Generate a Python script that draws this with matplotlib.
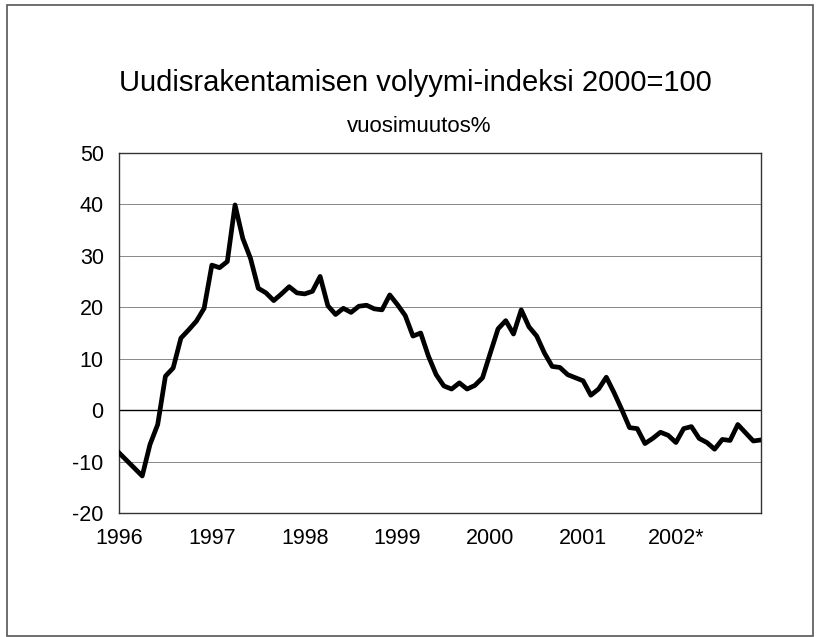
import matplotlib
matplotlib.use('Agg')
import matplotlib.pyplot as plt
from matplotlib.patches import Rectangle

# monthly year-on-year change, Jan 1996 - Dec 2002
values = [-8.3, -9.8, -11.3, -12.8, -6.7, -2.8, 6.6, 8.2, 14.0, 15.6, 17.3, 19.8,
          28.2, 27.7, 28.9, 39.9, 33.4, 29.5, 23.7, 22.8, 21.3, 22.6, 24.0, 22.8,
          22.6, 23.1, 26.0, 20.3, 18.6, 19.8, 19.0, 20.2, 20.4, 19.7, 19.5, 22.4,
          20.5, 18.4, 14.4, 15.0, 10.5, 6.9, 4.7, 4.1, 5.3, 4.1, 4.8, 6.3,
          11.1, 15.8, 17.4, 14.8, 19.5, 16.2, 14.4, 11.1, 8.5, 8.3, 6.9, 6.3,
          5.7, 2.9, 4.1, 6.4, 3.4, 0.1, -3.4, -3.6, -6.5, -5.5, -4.3, -4.9,
          -6.3, -3.6, -3.2, -5.5, -6.3, -7.6, -5.7, -5.9, -2.8, -4.4, -6.0, -5.8]
year_labels = ['1996', '1997', '1998', '1999', '2000', '2001', '2002*']
title = 'Uudisrakentamisen volyymi-indeksi 2000=100'
subtitle = 'vuosimuutos%'

plt.rcParams['font.family'] = ['Liberation Sans', 'DejaVu Sans']
plt.rcParams['axes.unicode_minus'] = False

fig = plt.figure(figsize=(8.22, 6.37), dpi=100)
fig.patches.append(Rectangle((7/822, 1/637), 806/822, 631/637, transform=fig.transFigure,
                             fill=False, edgecolor='#555555', linewidth=1.2))

ax = fig.add_axes([0.1448, 0.1947, 0.781, 0.5651])
months = list(range(len(values)))
ax.plot(months, values, color='black', linewidth=3.4, zorder=3)

ax.set_xlim(0, len(values) - 1)
ax.set_ylim(-20, 50)
ax.set_yticks(range(-20, 51, 10))
ax.set_xticks(range(0, len(values), 12))
ax.set_xticklabels(year_labels)
ax.tick_params(length=0, labelsize=15.5)
ax.tick_params(axis='x', pad=11)
ax.tick_params(axis='y', pad=11)
for y in range(-10, 50, 10):
    ax.axhline(y, color='black' if y == 0 else '#888888',
               linewidth=1.0 if y == 0 else 0.7, zorder=1)
for s in ax.spines.values():
    s.set_linewidth(1.0)
    s.set_color('#333333')

fig.text(0.505, 1 - 91/637, title, ha='center', va='baseline', fontsize=21)
fig.text(0.510, 1 - 132/637, subtitle, ha='center', va='baseline', fontsize=16)

fig.savefig('out.png', dpi=100)
